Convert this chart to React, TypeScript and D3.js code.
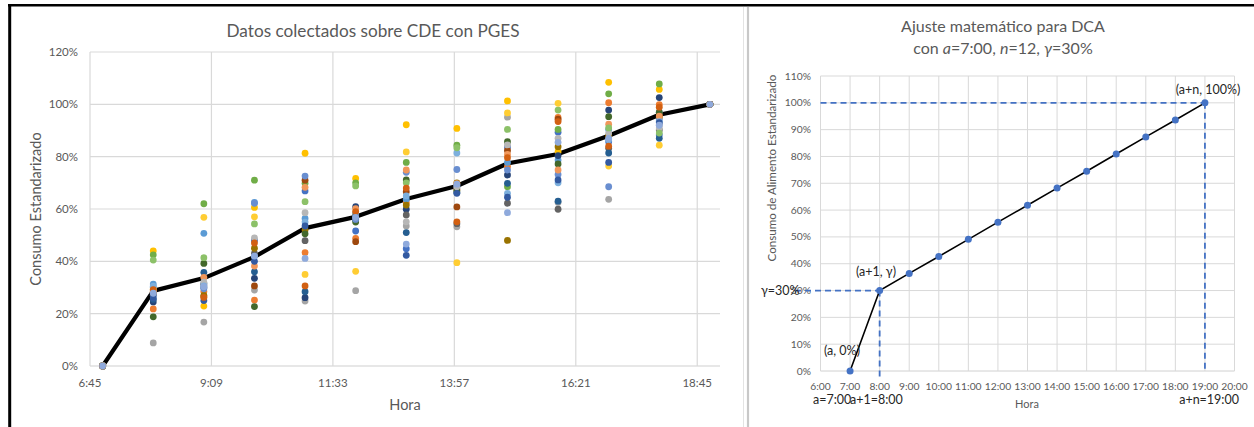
import React from "react";
import * as d3 from "d3";

// ---------- Left chart data ----------
const hours = [7, 8, 9, 10, 11, 12, 13, 14, 15, 16, 17, 18, 19];
const leftXTicks = [6.75, 9.15, 11.55, 13.95, 16.35, 18.75];
const leftYTicks = [0, 20, 40, 60, 80, 100, 120];
const seriesColors = [
  "#4472C4", "#ED7D31", "#A5A5A5", "#FFC000", "#5B9BD5", "#70AD47", "#264478",
  "#9E480E", "#636363", "#997300", "#255E91", "#43682B", "#698ED0", "#F1975A",
  "#B7B7B7", "#FFCD33", "#7CAFDD", "#8CC168", "#335AA1", "#D26012", "#8FAADC",
];
const s0 = [0, 27, 31.6, 48, 66.9, 51.6, 44.8, 68, 83.7, 89.3, 85.7, 88.3, 100];
const s1 = [0, 21.8, 28.5, 25.2, 43.3, 48.8, 62.5, 67.5, 76.2, 95, 100.6, 99.9, 100];
const s2 = [0, 8.8, 16.8, 29, 24.8, 28.8, 53.5, 53.2, 95.1, 62.5, 63.7, 92.1, 100];
const s3 = [0, 44, 22.9, 60.6, 81.3, 71.7, 92.2, 90.8, 101.3, 81.9, 108.4, 105.7, 100];
const s4 = [0, 31.3, 50.7, 62.5, 56.4, 57.5, 63.7, 69, 77.8, 78.7, 90.4, 96.8, 100];
const s5 = [0, 42.5, 62, 71, 69.8, 70, 77.8, 84.4, 68.5, 90.4, 104, 107.8, 100];
const s6 = [0, 24.5, 30, 33.5, 26.1, 60.9, 59.9, 68.7, 73, 80.4, 97.8, 102.6, 100];
const s7 = [0, 28, 26.5, 30.6, 71, 47.5, 66.6, 60.8, 82.4, 94.3, 87.6, 96, 100];
const s8 = [0, 27.5, 31, 43, 47.9, 56.5, 57.7, 54.4, 62.2, 59.9, 83.2, 90.2, 100];
const s9 = [0, 28.7, 27, 45, 52, 58, 61.5, 70, 48, 83.8, 88, 95, 100];
const s10 = [0, 25.5, 35.8, 36, 28.4, 55.8, 51, 66.3, 69.8, 63, 81.4, 87, 100];
const s11 = [0, 18.8, 39.2, 22.7, 50.5, 55, 71.1, 67, 85.7, 77.2, 95.3, 97, 100];
const s12 = [0, 30, 29.5, 62.2, 72.6, 56, 74, 75.1, 74.9, 73.2, 68.5, 94, 100];
const s13 = [0, 28.5, 33.9, 38.2, 68.3, 60.1, 74.9, 69.7, 80.9, 74.9, 92.4, 95.5, 100];
const s14 = [0, 29, 32, 49, 58.6, 57, 55.1, 68.5, 84.5, 87, 89, 91, 100];
const s15 = [0, 29.5, 56.8, 57, 35, 36.2, 81.8, 39.5, 96.7, 100.4, 76.4, 84.4, 100];
const s16 = [0, 30.5, 30.6, 41.8, 55, 58.5, 65, 81.4, 66, 70, 86.5, 93.4, 100];
const s17 = [0, 40.5, 41.4, 54.3, 62.8, 68.8, 70, 83.4, 90.4, 97.8, 91, 89, 100];
const s18 = [0, 26, 25, 40, 53.5, 57, 42.3, 66, 64.5, 71.1, 77.8, 93, 100];
const s19 = [0, 29.2, 26.2, 47, 30.6, 59, 68, 55.1, 79.6, 93.4, 84, 98.9, 100];
const s20 = [0, 27.8, 30.3, 42, 41.1, 56.8, 46.6, 69.5, 58.6, 85.5, 87, 92, 100];
const allSeries = [s0, s1, s2, s3, s4, s5, s6, s7, s8, s9, s10, s11, s12, s13, s14, s15, s16, s17, s18, s19, s20];
const meanValues = [0, 28.7, 33.6, 41.7, 52.7, 57, 63.8, 68.8, 77.4, 81, 88, 96, 100];

// ---------- Right chart data ----------
const fitValues = [0, 30, 36.4, 42.7, 49.1, 55.5, 61.8, 68.2, 74.5, 80.9, 87.3, 93.6, 100];
const rightXTicks = [6, 7, 8, 9, 10, 11, 12, 13, 14, 15, 16, 17, 18, 19, 20];
const rightYTicks = [0, 10, 20, 30, 40, 50, 60, 70, 80, 90, 100, 110];

const FONT = "Lato, 'Open Sans', sans-serif";
const GRID = "#d9d9d9";
const TXT = "#595959";

function fmtHM(h: number) {
  const total = Math.round(h * 60);
  const hh = Math.floor(total / 60);
  const mm = total % 60;
  return `${hh}:${mm.toString().padStart(2, "0")}`;
}

export default function App() {
  // Left scales
  const lx = d3.scaleLinear().domain([6.75, 19.2]).range([90, 720]);
  const ly = d3.scaleLinear().domain([0, 120]).range([366, 52]);
  const meanLine = d3
    .line<number>()
    .x((_, i) => lx(hours[i]))
    .y((d) => ly(d));

  // Right scales
  const rx = d3.scaleLinear().domain([6, 20]).range([820.5, 1234.5]);
  const ry = d3.scaleLinear().domain([0, 110]).range([371, 76]);
  const fitLine = d3
    .line<number>()
    .x((_, i) => rx(hours[i]))
    .y((d) => ry(d));

  return (
    <svg
      width={1254}
      height={427}
      style={{ position: "absolute", left: 0, top: 0, background: "#fff" }}
      fontFamily={FONT}
    >
      <rect x={0} y={0} width={1254} height={427} fill="#fff" />
      {/* frame */}
      <line x1={8} x2={1254} y1={5.3} y2={5.3} stroke="#000" strokeWidth={2.6} />
      <line x1={9.7} x2={9.7} y1={4} y2={427} stroke="#000" strokeWidth={3} />
      <line x1={743.5} x2={743.5} y1={7} y2={427} stroke="#e3e3e3" strokeWidth={1} />
      <line x1={748} x2={748} y1={7} y2={427} stroke="#c8c8c8" strokeWidth={2.2} />

      {/* ===== Left chart ===== */}
      <text x={373} y={37} textAnchor="middle" fontSize={17.2} fill={TXT}>
        Datos colectados sobre CDE con PGES
      </text>
      {leftYTicks.map((t) => (
        <g key={"ly" + t}>
          <line x1={90} x2={720} y1={ly(t)} y2={ly(t)} stroke={t === 0 ? "#d0d0d0" : GRID} strokeWidth={1.2} />
          <text x={78} y={ly(t) + 4} textAnchor="end" fontSize={11.5} fill={TXT}>
            {t}%
          </text>
        </g>
      ))}
      {leftXTicks.map((t) => (
        <g key={"lx" + t}>
          <line x1={lx(t)} x2={lx(t)} y1={ly(120)} y2={ly(0)} stroke={GRID} strokeWidth={1.2} />
          <text x={lx(t)} y={387} textAnchor="middle" fontSize={11.5} fill={TXT}>
            {fmtHM(t)}
          </text>
        </g>
      ))}
      <text x={405} y={410} textAnchor="middle" fontSize={14.5} fill={TXT}>
        Hora
      </text>
      <text
        transform={`translate(41,209) rotate(-90)`}
        textAnchor="middle"
        fontSize={14.5}
        fill={TXT}
      >
        Consumo Estandarizado
      </text>
      <path d={meanLine(meanValues) || ""} fill="none" stroke="#000" strokeWidth={4.2} strokeLinejoin="round" />
      {allSeries.map((s, si) =>
        s.map((v, i) => (
          <circle key={`p${si}-${i}`} cx={lx(hours[i])} cy={ly(v)} r={3.4} fill={seriesColors[si]} />
        ))
      )}

      {/* ===== Right chart ===== */}
      <text x={1003} y={32} textAnchor="middle" fontSize={16} fill={TXT}>
        Ajuste matemático para DCA
      </text>
      <text x={1003} y={54} textAnchor="middle" fontSize={16} fill={TXT}>
        con <tspan fontStyle="italic">a</tspan>=7:00, <tspan fontStyle="italic">n</tspan>=12,{" "}
        <tspan fontStyle="italic">γ</tspan>=30%
      </text>
      {rightYTicks.map((t) => (
        <g key={"ry" + t}>
          <line x1={rx(6)} x2={rx(20)} y1={ry(t)} y2={ry(t)} stroke={t === 0 ? "#d0d0d0" : GRID} strokeWidth={1} />
          <text x={811} y={ry(t) + 3.5} textAnchor="end" fontSize={10.3} fill={TXT}>
            {t}%
          </text>
        </g>
      ))}
      {rightXTicks.map((t) => (
        <g key={"rx" + t}>
          <line x1={rx(t)} x2={rx(t)} y1={ry(110)} y2={ry(0)} stroke={GRID} strokeWidth={1} />
          <text x={rx(t)} y={390} textAnchor="middle" fontSize={10.3} fill={TXT}>
            {fmtHM(t)}
          </text>
        </g>
      ))}
      <text x={1027} y={408} textAnchor="middle" fontSize={11} fill={TXT}>
        Hora
      </text>
      <text transform={`translate(776,168) rotate(-90)`} textAnchor="middle" fontSize={11.6} fill={TXT}>
        Consumo de Alimento Estandarizado
      </text>

      {/* dashed guides */}
      <g stroke="#4472C4" strokeWidth={1.8} strokeDasharray="6,4" fill="none">
        <line x1={rx(6)} x2={rx(19)} y1={ry(fitValues[12])} y2={ry(fitValues[12])} />
        <line x1={rx(19)} x2={rx(19)} y1={ry(fitValues[12])} y2={ry(0)} />
        <line x1={795} x2={rx(8)} y1={ry(fitValues[1])} y2={ry(fitValues[1])} />
        <line x1={rx(8)} x2={rx(8)} y1={ry(fitValues[1])} y2={ry(0) + 6} />
      </g>

      <path d={fitLine(fitValues) || ""} fill="none" stroke="#000" strokeWidth={1.6} />
      {fitValues.map((v, i) => (
        <circle key={"f" + i} cx={rx(hours[i])} cy={ry(v)} r={3.5} fill="#4472C4" />
      ))}

      {/* annotations */}
      <g fontSize={12.5} fill="#262626">
        <text x={1208} y={94} textAnchor="middle">(a+n, 100%)</text>
        <text x={876} y={276} textAnchor="middle">(a+1, γ)</text>
        <text x={761} y={295}>γ=30%</text>
        <text x={842} y={355} textAnchor="middle">(a, 0%)</text>
        <text x={813} y={404}>a=7:00</text>
        <text x={850} y={404}>a+1=8:00</text>
        <text x={1239} y={404} textAnchor="end">a+n=19:00</text>
      </g>
    </svg>
  );
}
